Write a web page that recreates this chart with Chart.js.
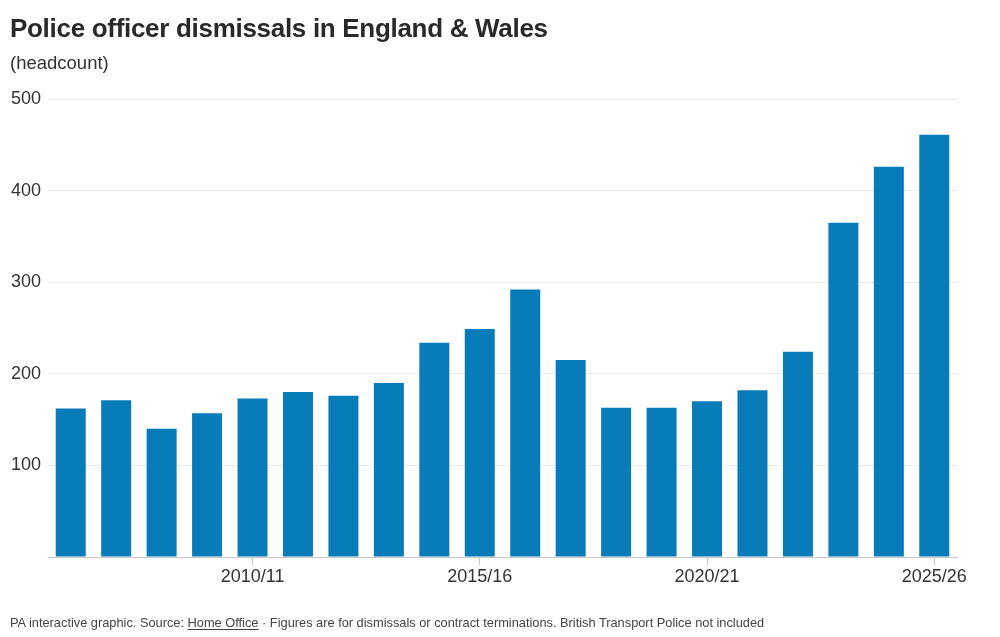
<!DOCTYPE html>
<html lang="en">
<head>
<meta charset="utf-8">
<title>Police officer dismissals in England & Wales</title>
<script src="https://cdn.jsdelivr.net/npm/chart.js@4.4.1/dist/chart.umd.min.js"></script>
<style>
    html, body {
        margin: 0;
        padding: 0;
        background: #fff;
    }
    #wrap {
        position: relative;
        width: 1000px;
        height: 637px;
        overflow: hidden;
        font-family: "Liberation Sans", Arial, sans-serif;
    }
    #chart {
        position: absolute;
        left: 0;
        top: 0;
    }
    .title {
        position: absolute;
        left: 10px;
        top: 15.3px;
        font-size: 26px;
        line-height: 26px;
        font-weight: bold;
        letter-spacing: -0.3px;
        color: #292929;
        white-space: nowrap;
    }
    .subtitle {
        position: absolute;
        left: 10px;
        top: 53.6px;
        font-size: 18.5px;
        line-height: 18.5px;
        color: #333;
        white-space: nowrap;
    }
    .footer {
        position: absolute;
        left: 10px;
        top: 616.5px;
        font-size: 12.8px;
        line-height: 12.8px;
        color: #444;
        white-space: nowrap;
    }
    .footer u {
        text-underline-offset: 2px;
    }
</style>
</head>
<body>
<div id="wrap">
    <canvas id="chart" width="1000" height="637"></canvas>
    <div class="title">Police officer dismissals in England &amp; Wales</div>
    <div class="subtitle">(headcount)</div>
    <div class="footer">PA interactive graphic. Source: <u>Home Office</u> · Figures are for dismissals or contract terminations. British Transport Police not included</div>
</div>

<script>
// 财年（2006/07 - 2025/26）
const years = [
    '2006/07', '2007/08', '2008/09', '2009/10', '2010/11',
    '2011/12', '2012/13', '2013/14', '2014/15', '2015/16',
    '2016/17', '2017/18', '2018/19', '2019/20', '2020/21',
    '2021/22', '2022/23', '2023/24', '2024/25', '2025/26'
];

// 解雇人数
const dismissals = [
    162, 171, 140, 157, 173,
    180, 176, 190, 234, 249,
    292, 215, 163, 163, 170,
    182, 224, 365, 426, 461
];

// 只显示这几个横轴标签
const xTickLabels = ['2010/11', '2015/16', '2020/21', '2025/26'];
const yTickValues = [100, 200, 300, 400, 500];

const COLORS = {
    bar: '#087cb8',
    text: '#333',
    grid: '#e9e9e9',
    axis: '#c8c8c8'
};

const FONT = '"Liberation Sans", Arial, sans-serif';

function renderChart() {
    const ctx = document.getElementById('chart');
    if (!ctx) {
        console.error('Canvas element not found: chart');
        return null;
    }

    return new Chart(ctx, {
        type: 'bar',
        data: {
            labels: years,
            datasets: [{
                label: 'Dismissals',
                data: dismissals,
                backgroundColor: COLORS.bar,
                borderWidth: 0,
                categoryPercentage: 1,
                barPercentage: 0.66
            }]
        },
        options: {
            responsive: false,
            devicePixelRatio: 1,
            animation: false,
            layout: {
                padding: { top: 99, left: 11, right: 43, bottom: 40 }
            },
            plugins: {
                legend: { display: false },
                title: { display: false },
                tooltip: { enabled: false }
            },
            scales: {
                x: {
                    grid: {
                        offset: false,
                        drawOnChartArea: false,
                        drawTicks: true,
                        tickLength: 8,
                        color: (c) => xTickLabels.includes(years[c.index]) ? COLORS.axis : 'rgba(0,0,0,0)'
                    },
                    border: { display: true, color: COLORS.axis, width: 1 },
                    ticks: {
                        autoSkip: false,
                        maxRotation: 0,
                        padding: 1,
                        color: COLORS.text,
                        font: { family: FONT, size: 18 },
                        callback: function(value, index) {
                            const label = years[index];
                            return xTickLabels.includes(label) ? label : '';
                        }
                    },
                    afterFit: (scale) => { scale.height = 40; }
                },
                y: {
                    min: 0,
                    max: 500,
                    grid: {
                        color: (c) => c.tick.value === 0 ? 'rgba(0,0,0,0)' : COLORS.grid,
                        drawTicks: false
                    },
                    border: { display: false },
                    afterBuildTicks: (scale) => {
                        scale.ticks = [0].concat(yTickValues).map(v => ({ value: v }));
                    },
                    ticks: {
                        crossAlign: 'far',
                        padding: 0,
                        color: COLORS.text,
                        font: { family: FONT, size: 18 },
                        callback: (value) => value === 0 ? '' : value
                    },
                    afterFit: (scale) => { scale.width = 37; }
                }
            }
        }
    });
}

document.addEventListener('DOMContentLoaded', function() {
    try {
        const chart = renderChart();
        if (chart) {
            console.log('chart area:', chart.chartArea);
        }
    } catch (error) {
        console.error('渲染图表失败:', error);
    }
});
</script>
</body>
</html>
